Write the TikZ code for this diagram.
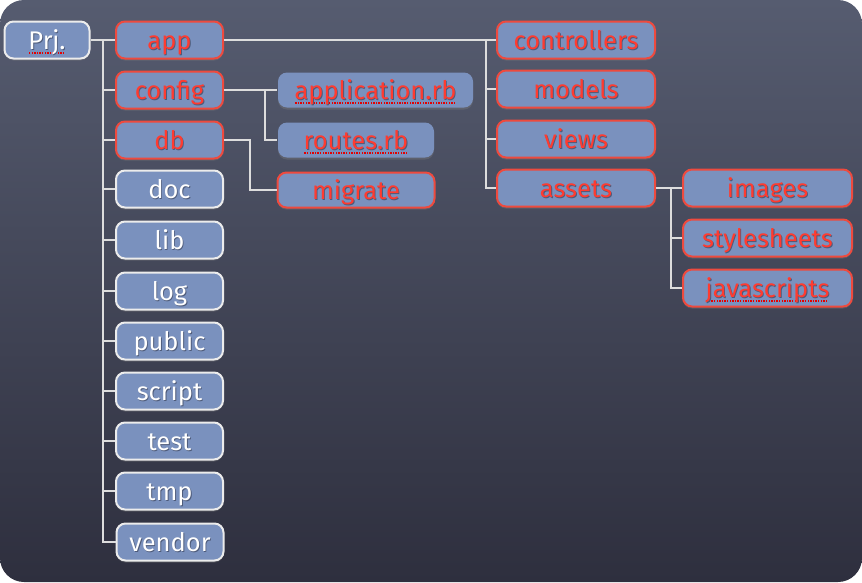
\documentclass[tikz,border=0pt]{standalone}
\usepackage{fontspec}
\setmainfont{Fira Sans}
\usetikzlibrary{shadows}
\definecolor{bgtop}{HTML}{565C70}
\definecolor{bgbot}{HTML}{2E2F3E}
\definecolor{boxfill}{HTML}{7A91BE}
\definecolor{boxred}{HTML}{EE4A3E}
\definecolor{txtred}{HTML}{FF3B30}
\definecolor{boxwhite}{HTML}{ECECEC}
\definecolor{linecol}{HTML}{DDDDDD}
\definecolor{tshade}{HTML}{4E5B7A}
\newcommand\tsh[1]{\rlap{\kern0.9pt\raisebox{-1.3pt}{\color{tshade}#1}}#1}
\newcommand\dotul[1]{\setbox0\hbox{#1}\rlap{\raisebox{-4.5pt}{\color{red!90!black}\hbox to \wd0{\leaders\hbox to 2.6pt{\hss\vrule width 1.4pt height 1.4pt\hss}\hfill}}}\box0}
\tikzset{
  box/.style={rounded corners=9pt, fill=boxfill, line width=2pt,
    minimum height=37pt, inner sep=0pt, text height=18pt, text depth=0pt,
    font=\fontsize{25.5}{29}\selectfont,
    drop shadow={shadow xshift=0pt, shadow yshift=-2pt, opacity=0.35}},
  redbox/.style={box, draw=boxred, text=txtred},
  whitebox/.style={box, draw=boxwhite, text=white},
  plainbox/.style={box, draw=none, text=txtred},
  conn/.style={draw=linecol, line width=2.4pt},
}
\begin{document}
\begin{tikzpicture}[x=1pt,y=-1pt]
\useasboundingbox (0,0) rectangle (862,582);
\shade[rounded corners=24pt, top color=bgtop, bottom color=bgbot] (0,0) rectangle (862,582);
% branch points
\coordinate (t0) at (103,40);
\coordinate (a0) at (486,40);
\coordinate (c0) at (265,90);
\coordinate (d0) at (250,140);
\coordinate (s0) at (671,188);
% nodes
\node[whitebox, minimum width=85pt] (prj) at (47,40) {\dotul{\tsh{Prj.}}};
\node[redbox, minimum width=107pt] (app) at (169.5,40) {\tsh{app}};
\node[redbox, minimum width=107pt] (config) at (169.5,90) {\tsh{config}};
\node[redbox, minimum width=107pt] (db) at (169.5,140) {\tsh{db}};
\node[whitebox, minimum width=107pt] (doc) at (169.5,189) {\tsh{doc}};
\node[whitebox, minimum width=107pt] (lib) at (169.5,240) {\tsh{lib}};
\node[whitebox, minimum width=107pt] (log) at (169.5,291) {\tsh{log}};
\node[whitebox, minimum width=107pt] (public) at (169.5,341) {\tsh{public}};
\node[whitebox, minimum width=107pt] (script) at (169.5,391) {\tsh{script}};
\node[whitebox, minimum width=107pt] (test) at (169.5,441) {\tsh{test}};
\node[whitebox, minimum width=107pt] (tmp) at (169.5,491) {\tsh{tmp}};
\node[whitebox, minimum width=107pt] (vendor) at (170,542) {\tsh{vendor}};
\node[plainbox, minimum width=195pt, minimum height=35pt] (apprb) at (375.5,90) {\dotul{\tsh{application.rb}}};
\node[plainbox, minimum width=156pt, minimum height=35pt] (routes) at (356,140) {\dotul{\tsh{routes.rb}}};
\node[redbox, minimum width=157pt, minimum height=35pt] (migrate) at (356,190) {\tsh{migrate}};
\node[redbox, minimum width=158pt] (controllers) at (576,40) {\tsh{controllers}};
\node[redbox, minimum width=158pt] (models) at (576,89) {\tsh{models}};
\node[redbox, minimum width=158pt] (views) at (576,139) {\tsh{views}};
\node[redbox, minimum width=158pt] (assets) at (576,188) {\tsh{assets}};
\node[redbox, minimum width=169pt] (images) at (767.5,188) {\tsh{images}};
\node[redbox, minimum width=169pt] (styles) at (767.5,238) {\tsh{stylesheets}};
\node[redbox, minimum width=169pt] (js) at (767.5,288) {\dotul{\tsh{javascripts}}};
% connectors
\draw[conn] (prj.east) -- (app.west);
\foreach \n in {config,db,doc,lib,log,public,script,test,tmp,vendor}
  \draw[conn] (t0) |- (\n.west);
\draw[conn] (app.east) -- (controllers.west);
\foreach \n in {models,views,assets}
  \draw[conn] (a0) |- (\n.west);
\draw[conn] (config.east) -- (apprb.west);
\draw[conn] (c0) |- (routes.west);
\draw[conn] (db.east) -- (d0) |- (migrate.west);
\draw[conn] (assets.east) -- (images.west);
\foreach \n in {styles,js}
  \draw[conn] (s0) |- (\n.west);
\end{tikzpicture}
\end{document}
